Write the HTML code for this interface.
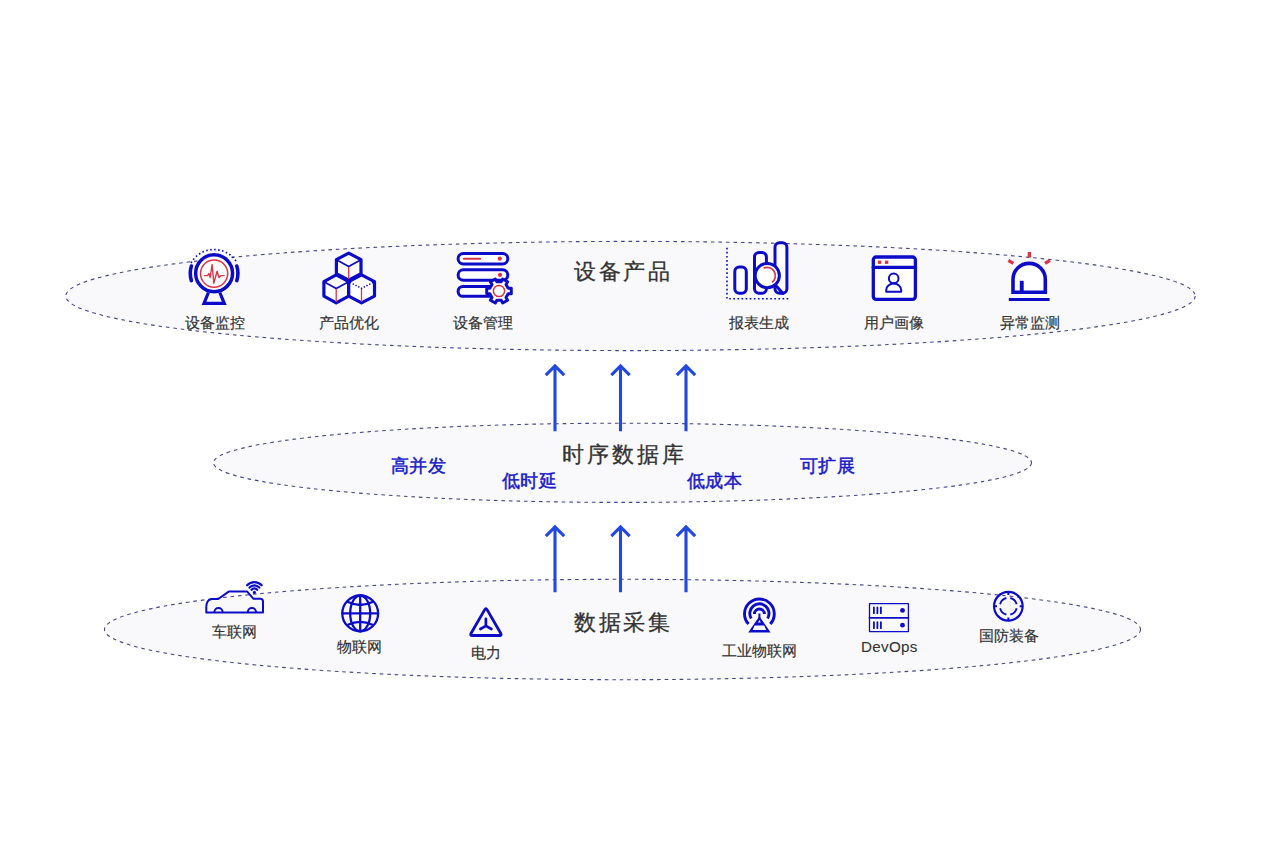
<!DOCTYPE html>
<html><head><meta charset="utf-8">
<style>
html,body{margin:0;padding:0;background:#fff;width:1268px;height:844px;overflow:hidden}
svg{position:absolute;left:0;top:0}
text{font-family:"Liberation Sans",sans-serif}
.lbl{font-size:15px;fill:#333;stroke:#333;stroke-width:0.18px}
.ttl{font-size:22px;fill:#333;letter-spacing:2.7px;stroke:#333;stroke-width:0.3px}
.blu{font-size:18px;fill:#1a1ac8;letter-spacing:0.4px;stroke:#1a1ac8;stroke-width:0.5px}
</style></head><body>
<svg width="1268" height="844" viewBox="0 0 1268 844">
<g fill="#f9f9fb" stroke="#45458a" stroke-width="1.1" stroke-dasharray="3.6 3.9">
<ellipse cx="630.5" cy="296" rx="564.7" ry="54.6"/>
<ellipse cx="622.5" cy="462.8" rx="409" ry="39.6"/>
<ellipse cx="622.5" cy="629.5" rx="518" ry="50.2"/>
</g>
<g stroke="#2248e2" stroke-width="3.1" fill="none" stroke-linecap="butt">
<path d="M555 367V431.2M545.8 375.2 555 366 564.2 375.2"/>
<path d="M620.5 367V431.2M611.3 375.2 620.5 366 629.7 375.2"/>
<path d="M686 367V431.2M676.8 375.2 686 366 695.2 375.2"/>
<path d="M555 528V592.2M545.8 536.2 555 527 564.2 536.2"/>
<path d="M620.5 528V592.2M611.3 536.2 620.5 527 629.7 536.2"/>
<path d="M686 528V592.2M676.8 536.2 686 527 695.2 536.2"/>
</g>
<text class="ttl" x="574" y="279">设备产品</text>
<text class="ttl" x="562" y="462" style="letter-spacing:3.1px">时序数据库</text>
<text class="ttl" x="574" y="630">数据采集</text>
<text class="blu" x="391" y="472">高并发</text>
<text class="blu" x="502" y="487">低时延</text>
<text class="blu" x="687" y="487">低成本</text>
<text class="blu" x="800" y="472">可扩展</text>
<g class="lbl" text-anchor="middle">
<text x="214.6" y="328">设备监控</text>
<text x="349.3" y="328">产品优化</text>
<text x="482.7" y="328">设备管理</text>
<text x="759" y="328">报表生成</text>
<text x="894.2" y="328">用户画像</text>
<text x="1030.2" y="328">异常监测</text>
<text x="234.2" y="637">车联网</text>
<text x="359.8" y="652">物联网</text>
<text x="486" y="658">电力</text>
<text x="759" y="656">工业物联网</text>
<text x="889.4" y="652.3" style="font-size:15.2px;stroke-width:0.1px;letter-spacing:0.3px">DevOps</text>
<text x="1009.3" y="641">国防装备</text>
</g>
<!-- ICONS -->
<g id="icons" fill="none" stroke-linecap="round" stroke-linejoin="round">
<!-- 1 monitor -->
<g>
<circle cx="214.1" cy="273.2" r="18.45" stroke="#0c0cc8" stroke-width="3.5" fill="#fff"/>
<circle cx="214.1" cy="273.6" r="13.6" stroke="#dd3344" stroke-width="1.5"/>
<path d="M204.4 275.6H207.5L209 273.5 210.2 277.5 212.1 264.5 213.8 283.3 217.1 271.3 219 277.5 221 275.6H224.1" stroke="#dd3344" stroke-width="1.4"/>
<path d="M191.4 266A24 24 0 0 0 191.4 280.6M236.8 266A24 24 0 0 1 236.8 280.6" stroke="#0c0cc8" stroke-width="3.6"/>
<path d="M191 263A26.5 26.5 0 0 1 237.2 263" stroke="#0c0cc8" stroke-width="1.7" stroke-dasharray="1.6 2.4" stroke-linecap="butt"/>
<path d="M208.4 292.5 204 303.3H224.3L219.8 292.5" stroke="#0c0cc8" stroke-width="3.2" stroke-linecap="butt" stroke-linejoin="miter"/>
</g>
<!-- 2 cubes -->
<g>
<path d="M348.7 253.1 361 259.7V273.6L348.7 280.2 336.4 273.6V259.7Z" stroke="#0c0cc8" stroke-width="3.2" fill="#fff"/>
<path d="M336.2 274.9 348.7 281.7V296.1L336.2 302.9 323.9 296.1V281.7Z" stroke="#0c0cc8" stroke-width="3.2" fill="#fff"/>
<path d="M361.5 274.9 374.5 281.7V296.1L361.5 302.9 348.7 296.1V281.7Z" stroke="#0c0cc8" stroke-width="3.2" fill="#fff"/>
<path d="M336.4 259.7 348.7 266.6 361 259.7M323.9 281.7 336.2 288.4 348.7 281.7" stroke="#0c0cc8" stroke-width="1.7"/>
<path d="M350.5 282.6 361.5 288.4 372.7 282.6" stroke="#0c0cc8" stroke-width="1.6" stroke-dasharray="0.1 3"/>
<path d="M348.7 267V279M336.2 289V302M361.5 289V302" stroke="#dd3344" stroke-width="1.3" stroke-linecap="butt"/>
</g>
<!-- 3 server gear -->
<g>
<rect x="458.1" y="253.4" width="49.7" height="10.5" rx="5.25" stroke="#0c0cc8" stroke-width="3" fill="#fff"/>
<rect x="458.1" y="269.8" width="49.7" height="10.5" rx="5.25" stroke="#0c0cc8" stroke-width="3" fill="#fff"/>
<rect x="458.1" y="286.5" width="49.7" height="9.8" rx="4.9" stroke="#0c0cc8" stroke-width="3" fill="#fff"/>
<path d="M463.8 258.7H480.2" stroke="#dd3344" stroke-width="2"/>
<circle cx="499.8" cy="258.7" r="2.1" fill="#dd3344"/>
<circle cx="500" cy="274.9" r="2.1" fill="#dd3344"/>
<path d="M508.18 288.19 L511.28 288.17 L511.28 293.83 L508.18 293.81 L506.02 297.55 L507.59 300.22 L502.68 303.05 L501.16 300.35 L496.84 300.35 L495.32 303.05 L490.41 300.22 L491.98 297.55 L489.82 293.81 L486.72 293.83 L486.72 288.17 L489.82 288.19 L491.98 284.45 L490.41 281.78 L495.32 278.95 L496.84 281.65 L501.16 281.65 L502.68 278.95 L507.59 281.78 L506.02 284.45Z" stroke="#0c0cc8" stroke-width="3" fill="#fff"/>
<circle cx="499" cy="291" r="5.6" stroke="#dd3344" stroke-width="1.5"/>
</g>
<!-- 4 report -->
<g>
<path d="M727 248.5V298.8H788.2" stroke="#0c0cc8" stroke-width="1.6" stroke-dasharray="0.1 4" stroke-linecap="square"/>
<rect x="734.8" y="266.9" width="11.5" height="26.4" rx="4.5" stroke="#0c0cc8" stroke-width="3" fill="#fff"/>
<rect x="754.5" y="252.4" width="11.9" height="40.9" rx="4.5" stroke="#0c0cc8" stroke-width="3" fill="#fff"/>
<rect x="775" y="242.7" width="11.9" height="50.6" rx="4.5" stroke="#0c0cc8" stroke-width="3" fill="#fff"/>
<circle cx="767.3" cy="275.6" r="12.1" stroke="#0c0cc8" stroke-width="3" fill="#fff"/>
<path d="M776.5 286.3 783 293.5" stroke="#0c0cc8" stroke-width="3"/>
<path d="M763.6 268A8.4 8.4 0 0 1 772 282.4" stroke="#dd3344" stroke-width="1.7" stroke-linecap="butt"/>
</g>
<!-- 5 browser user -->
<g>
<rect x="873.3" y="257" width="42.1" height="42.4" rx="2.8" stroke="#0c0cc8" stroke-width="3.3" fill="#fff"/>
<path d="M873.3 267.3H915.4" stroke="#0c0cc8" stroke-width="3.3"/>
<rect x="877.9" y="260.6" width="3.4" height="3.3" fill="#dd3344"/>
<rect x="884.9" y="260.6" width="3.4" height="3.3" fill="#dd3344"/>
<circle cx="893.7" cy="278.4" r="4.8" stroke="#0c0cc8" stroke-width="2"/>
<path d="M886.2 291.8V290A7.5 6.5 0 0 1 901.2 290V291.8Z" stroke="#0c0cc8" stroke-width="2"/>
</g>
<!-- 6 alarm -->
<g>
<path d="M1013 292.2V279.5A16.15 16.15 0 0 1 1045.3 279.5V292.2Z" stroke="#0c0cc8" stroke-width="3.6" stroke-linejoin="miter" stroke-linecap="butt" fill="#fff"/>
<path d="M1021.75 280.8V292" stroke="#0c0cc8" stroke-width="3.9" stroke-linecap="butt"/>
<path d="M1008.8 299.5H1049.6" stroke="#0c0cc8" stroke-width="3.2" stroke-linecap="butt"/>
<path d="M1029.35 252V257.4M1008.4 260.4 1013.3 263.4M1049.9 260.4 1045 263.4" stroke="#dd3344" stroke-width="3.4" stroke-linecap="butt"/>
</g>
<!-- 7 car -->
<g stroke="#0c0cc8" stroke-width="2">
<path d="M206.3 612.5V606.5Q206.5 600 211.5 599H218.2L228.7 591.6H247.2L253.3 598.7H260.7Q263 599 263 601.5V612.5Z"/>
<path d="M214.4 612A4.1 4.1 0 0 1 222.6 612M247.8 612A4.1 4.1 0 0 1 256 612"/>
<circle cx="254.4" cy="592.4" r="1.6" fill="#0c0cc8" stroke="none"/>
<path d="M251.6 589.8A3.6 3.6 0 0 1 257.2 589.8M249.5 587.6A6.6 6.6 0 0 1 259.3 587.6M247.1 585.3A9.9 9.9 0 0 1 261.7 585.3" stroke-width="2.2"/>
</g>
<!-- 8 globe -->
<g stroke="#0c0cc8" stroke-width="2.3">
<circle cx="360.2" cy="613.4" r="17.9"/>
<ellipse cx="360.2" cy="613.4" rx="10" ry="17.9"/>
<path d="M360.2 595.5V631.3M342.3 613.3H378.1M348 602Q360.2 608 372.4 602M348 624.8Q360.2 618.8 372.4 624.8"/>
</g>
<!-- 9 triangle -->
<g stroke="#0c0cc8" stroke-width="2.8">
<path d="M484.60 609.85Q485.90 607.60 487.20 609.85L500.70 633.25Q502.00 635.50 499.40 635.50L472.40 635.50Q469.80 635.50 471.10 633.25Z"/>
<path d="M485.9 618.8V625.9L480.4 629M485.9 625.9 491.4 629" stroke-width="2.7"/>
</g>
<!-- 10 antenna -->
<g stroke="#0c0cc8" stroke-width="2.9" stroke-linecap="butt">
<path d="M748.6 624.1A14.9 14.9 0 1 1 770.2 624.1"/>
<path d="M751.2 618.4A9.6 9.6 0 1 1 767.6 618.4"/>
<path d="M754.4 614A5 5 0 1 1 764.4 614"/>
<rect x="758.4" y="613.5" width="2" height="4.5" fill="#0c0cc8" stroke="none"/>
<path d="M759.4 616.3 770.6 632.5H748.2ZM759.4 620.1 760.8 622.5H758Z M754.6 625.6H764.2L766.2 630H752.6Z" fill="#0c0cc8" fill-rule="evenodd" stroke="none"/>
</g>
<!-- 11 devops -->
<g stroke="#0c0cc8">
<rect x="869.5" y="603.6" width="38.9" height="28" stroke-width="1.3"/>
<path d="M869.5 617.8H908.4" stroke-width="1.8"/>
<path d="M873.9 607.4V613.2M877.4 607.4V613.2M880.9 607.4V613.2M873.9 622.2V628.2M877.4 622.2V628.2M880.9 622.2V628.2" stroke-width="1.8"/>
<circle cx="902.5" cy="610.4" r="2.4" fill="#0c0cc8" stroke="none"/>
<circle cx="902.5" cy="625.2" r="2.4" fill="#0c0cc8" stroke="none"/>
</g>
<!-- 12 target -->
<g stroke="#0c0cc8">
<circle cx="1008.35" cy="606.25" r="14.3" stroke-width="2.2"/>
<path d="M1006.4 598A8.3 8.3 0 0 0 1000.1 604.3M1000.1 608.2A8.3 8.3 0 0 0 1006.4 614.5M1010.3 614.5A8.3 8.3 0 0 0 1016.6 608.2M1016.6 604.3A8.3 8.3 0 0 0 1010.3 598" stroke-width="1.8" stroke-linecap="butt"/>
<path d="M1008.35 592V595M1008.35 617.5V620.5M994.1 606.25H997M1019.7 606.25H1022.6" stroke-width="2" stroke-linecap="butt"/>
</g>
</g>
</svg>
</body></html>
